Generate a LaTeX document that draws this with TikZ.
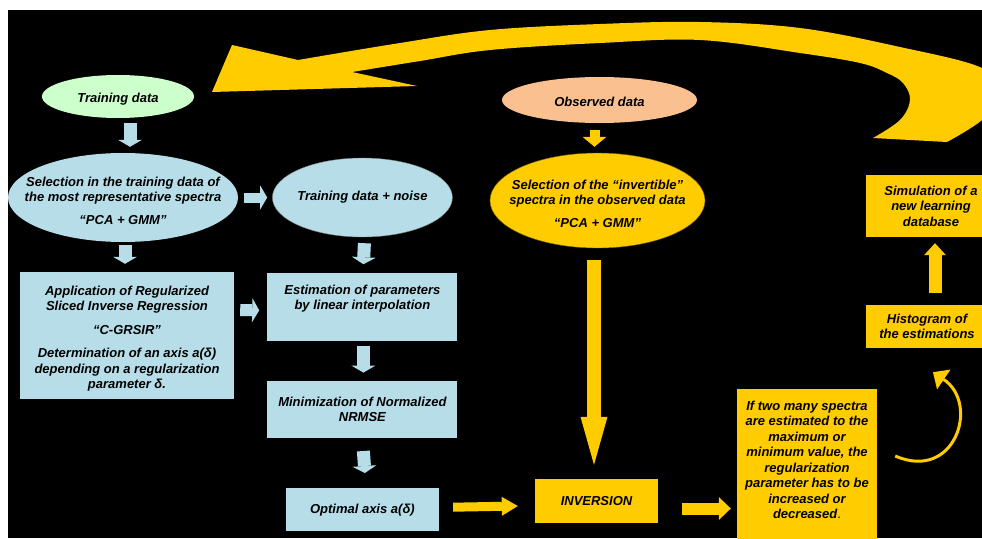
\documentclass[tikz,border=0pt]{standalone}
\usepackage{fontspec}
\setmainfont{Liberation Sans}
\usetikzlibrary{arrows.meta, positioning, shapes.geometric}

\definecolor{paleblue}{HTML}{B7DEE8}
\definecolor{palegreen}{HTML}{CCFFCC}
\definecolor{peach}{HTML}{FAC090}
\definecolor{gold}{HTML}{FFCC00}
\definecolor{darkgold}{HTML}{7F6000}

\tikzset{
  blueell/.style={ellipse, fill=paleblue, inner sep=0pt},
  bluebox/.style={rectangle, fill=paleblue, inner sep=0pt, align=center},
  goldbox/.style={rectangle, fill=gold, inner sep=0pt, align=center},
  txt/.style={align=center, inner sep=0pt},
  bluearr/.style={draw=paleblue, line width=13pt, -{Triangle[length=7pt, width=24pt, line width=0pt]}},
  goldarr/.style={draw=gold, line width=12pt, -{Triangle[length=12pt, width=23pt, line width=0pt]}},
}

\begin{document}
\begin{tikzpicture}[x=1pt, y=-1pt, font=\fontsize{13}{15.5}\selectfont\bfseries\itshape]

  \useasboundingbox (0,0) rectangle (982,538);
  \clip (0,0) rectangle (982,538);
  \fill[black] (8,10) rectangle (982,538);

  % training side
  \node (train) [ellipse, fill=palegreen, inner sep=0pt, minimum width=152pt, minimum height=43pt] at (118,96.5) {};
  \node (traint) [txt] at ([yshift=-3pt]train.center) {Training data};
  \node (sel) [blueell, minimum width=230pt, minimum height=89pt] at (123,197.5) {};
  \node (selt) [txt] at ([yshift=-3pt]sel.center) {Selection in the training data of\\the most representative spectra\\[7pt]“PCA + GMM”};
  \node (app) [bluebox, minimum width=214pt, minimum height=127pt] at (127,335.5) {};
  \node (appt) [txt] at ([yshift=-3pt]app.center) {Application of Regularized\\Sliced Inverse Regression\\[8pt]“C-GRSIR”\\[8pt]Determination of an axis a(δ)\\depending on a regularization\\parameter δ.};

  \node (noise) [blueell, draw=gray, minimum width=180pt, minimum height=79pt, right=34pt of sel] {};
  \node (noiset) [txt] at (noise.center) {Training data + noise};
  \node (est) [bluebox, minimum width=190pt, minimum height=68pt, below=36pt of noise] {Estimation of parameters\\by linear interpolation\\\strut};
  \node (min) [bluebox, minimum width=190pt, minimum height=57pt, below=39pt of est] {Minimization of Normalized\\NRMSE};
  \node (opt) [bluebox, minimum width=153pt, minimum height=43pt, below=50pt of min] {Optimal axis a(δ)};

  % observed side
  \node (obs) [ellipse, fill=peach, inner sep=0pt, minimum width=195pt, minimum height=46pt] at (599.5,100) {};
  \node (obst) [txt] at ([yshift=-2pt]obs.center) {Observed data};
  \node (selobs) [ellipse, fill=gold, draw=darkgold, inner sep=0pt, minimum width=215pt, minimum height=95pt] at (597.5,200.5) {};
  \node (selobst) [txt] at ([yshift=-3pt]selobs.center) {Selection of the “invertible”\\spectra in the observed data\\[7pt]“PCA + GMM”};
  \node (inv) [goldbox, minimum width=123pt, minimum height=44pt] at (596.5,501) {INVERSION};

  \node (ifbox) [goldbox, minimum width=140pt, minimum height=156pt] at (807,467) {};
  \node (iftxt) [txt] at (807,460) {If two many spectra\\are estimated to the\\maximum or\\minimum value, the\\regularization\\parameter has to be\\increased or\\decreased{\mdseries\upshape .}};
  \node (hist) [goldbox, minimum width=122pt, minimum height=43pt] at (927,326.5) {Histogram of\\the estimations};
  \node (simu) [goldbox, minimum width=130pt, minimum height=62pt] at (931,206) {Simulation of a\\new learning\\database};

  % block arrows
  \draw[bluearr] ([xshift=12pt, yshift=-5pt]train.south) -- ([xshift=7pt, yshift=6pt]sel.north);
  \draw[bluearr, line width=10pt, shorten <=6pt, shorten >=5pt] (sel.east) -- (noise.west);
  \draw[bluearr] ([xshift=2pt, yshift=-6pt]noise.south) -- ([xshift=1pt, yshift=9pt]est.north);
  \draw[bluearr] ([xshift=2pt, yshift=-3pt]sel.south) -- ([xshift=-2pt, yshift=8pt]app.north);
  \draw[bluearr, line width=12pt] ([xshift=6pt, yshift=25.5pt]app.east) -- ([xshift=-8pt, yshift=-3pt]est.west);
  \draw[bluearr] ([xshift=1pt, yshift=-4pt]est.south) -- ([xshift=1pt, yshift=8pt]min.north);
  \draw[bluearr] ([xshift=1pt, yshift=-13pt]min.south) -- ([xshift=2.5pt, yshift=15pt]opt.north);

  \draw[goldarr, line width=10pt, -{Triangle[length=10pt, width=24pt, line width=0pt]}] ([xshift=-5pt, yshift=-7pt]obs.south) -- ([xshift=-3pt, yshift=6pt]selobs.north);
  \draw[goldarr, line width=14pt, -{Triangle[length=48pt, width=27pt, line width=0pt]}] ([xshift=-3.5pt, yshift=-12pt]selobs.south) -- ([xshift=-2.5pt, yshift=14pt]inv.north);
  \draw[goldarr, line width=9pt, -{Triangle[length=16pt, width=19pt, line width=0pt]}] ([xshift=14pt, yshift=2.5pt]opt.east) -- ([xshift=-17pt, yshift=-5pt]inv.west);
  \draw[goldarr] ([xshift=24pt, yshift=-7.5pt]inv.east) -- ([xshift=-6pt, yshift=-41.5pt]ifbox.west);
  \draw[goldarr, line width=13pt, -{Triangle[length=12pt, width=22pt, line width=0pt]}] ([xshift=8pt, yshift=12pt]hist.north) -- ([xshift=4pt, yshift=-6pt]simu.south);

  % loop back
  \draw[gold, line width=3pt, -{Triangle[length=13pt, width=24pt, line width=0pt]}] ([xshift=18pt, yshift=11pt]ifbox.east) .. controls (955,482) and (980,404) .. ([xshift=6pt, yshift=-24pt]hist.south);

  \fill[gold] (212,92) -- (232,45) -- (298,60)
    -- plot[smooth, tension=0.6] coordinates {(298,60) (400,43) (490,30) (600,24) (700,22) (800,28) (900,47) (982,68) (1002,94) (982,120) (947,142)}
    -- (873,138)
    -- plot[smooth, tension=0.6] coordinates {(873,138) (900,120) (910,100) (903,83) (887,73) (860,63) (800,53) (700,40) (600,43) (490,50) (420,61) (352,72)}
    -- (417,86) -- cycle;

\end{tikzpicture}
\end{document}
